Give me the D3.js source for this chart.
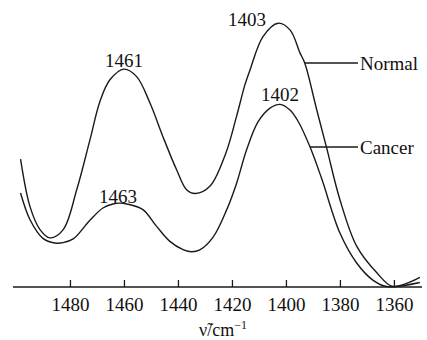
<!DOCTYPE html>
<html>
<head>
<meta charset="utf-8">
<script src="https://cdn.jsdelivr.net/npm/d3@7.9.0/dist/d3.min.js"></script>
<style>
  body { margin: 0; background: #fff; }
  svg { display: block; }
  svg text { font-family: "Liberation Serif", "Times New Roman", Times, "DejaVu Serif", serif; }
</style>
</head>
<body>
<div id="chart"></div>
<script>
// wavenumbers (cm^-1) and absorbance
const normalWave = [1498.3, 1494.8, 1491.1, 1487.4, 1482.5, 1477.5, 1472.6, 1468.9, 1465.2, 1460.0,
  1455.3, 1450.4, 1445.6, 1440.5, 1436.8, 1433.5, 1428.1, 1422.3, 1418.3, 1415.2, 1413.3,
  1408.5, 1402.9, 1398.5, 1394.8, 1393.0, 1388.6, 1384.9, 1380.0, 1373.8, 1366.4, 1360.4, 1350.4];
const normalAbs = [0.479, 0.301, 0.215, 0.184, 0.215, 0.364, 0.551, 0.695, 0.776, 0.816,
  0.788, 0.690, 0.564, 0.439, 0.364, 0.350, 0.378, 0.500, 0.639, 0.757, 0.813,
  0.938, 0.988, 0.963, 0.877, 0.838, 0.664, 0.520, 0.327, 0.153, 0.054, 0.002, 0.036];

const cancerWave = [1498.3, 1494.8, 1489.9, 1485.6, 1482.6, 1478.8, 1472.6, 1467.8, 1464.1, 1461.5, 1459.0,
  1453.0, 1447.9, 1443.0, 1438.1, 1434.9, 1431.9, 1426.9, 1422.0, 1418.3, 1414.6, 1410.3,
  1405.9, 1402.2, 1398.5, 1395.4, 1391.1, 1386.8, 1380.0, 1373.8, 1367.8, 1362.7, 1350.4];
const cancerAbs = [0.352, 0.252, 0.181, 0.165, 0.166, 0.180, 0.250, 0.296, 0.311, 0.314, 0.311,
  0.290, 0.227, 0.171, 0.140, 0.132, 0.139, 0.188, 0.288, 0.388, 0.513, 0.619,
  0.670, 0.684, 0.663, 0.619, 0.525, 0.407, 0.202, 0.090, 0.026, 0.002, 0.017];

const xTicks = [1480, 1460, 1440, 1420, 1400, 1380, 1360];
const peakLabels = [
  { text: '1461', wave: 1460.0, abs: 0.816, dx: 0, dy: -2 },
  { text: '1463', wave: 1461.5, abs: 0.314, dx: -2, dy: 0 },
  { text: '1403', wave: 1402.9, abs: 0.988, dx: -31, dy: 3 },
  { text: '1402', wave: 1402.2, abs: 0.684, dx: 0, dy: -3 }
];
const seriesNames = ['Normal', 'Cancer'];
const leaderWave = [1393.0, 1391.1];

const width = 427, height = 340;
const svg = d3.select('#chart').append('svg')
  .attr('width', width).attr('height', height);

const x = d3.scaleLinear().domain([1501.1, 1349.6]).range([13, 422]);
const y = d3.scaleLinear().domain([0, 1]).range([287, 20]);

const line = d3.line()
  .x(d => x(d[0]))
  .y(d => y(d[1]))
  .curve(d3.curveCatmullRom.alpha(0.5));

const normal = d3.zip(normalWave, normalAbs);
const cancer = d3.zip(cancerWave, cancerAbs);

svg.selectAll('path.series')
  .data([normal, cancer])
  .join('path')
  .attr('class', 'series')
  .attr('d', line)
  .attr('fill', 'none')
  .attr('stroke', '#1a1a1a')
  .attr('stroke-width', 1.4);

// axis
const axis = d3.axisBottom(x)
  .tickValues(xTicks)
  .tickFormat(d3.format('d'))
  .tickSize(-7)
  .tickPadding(16);
const gx = svg.append('g')
  .attr('transform', `translate(0,${y(0)})`)
  .call(axis)
  .attr('font-family', null)
  .attr('font-size', null);
gx.select('.domain').attr('stroke', '#1a1a1a').attr('stroke-width', 1.5).attr('d', 'M13,0H422');
gx.selectAll('.tick line').attr('stroke', '#1a1a1a').attr('stroke-width', 1.3);
gx.selectAll('.tick text')
  .attr('fill', '#111')
  .attr('font-size', 19)
  .attr('dy', '0.71em')
  .attr('y', 11);

svg.append('text')
  .attr('x', 223).attr('y', 336)
  .attr('text-anchor', 'middle')
  .attr('font-size', 18).attr('fill', '#111')
  .html('ν̃/cm<tspan dy="-7" font-size="12">−1</tspan>');

// peak labels
svg.selectAll('text.peak')
  .data(peakLabels)
  .join('text')
  .attr('class', 'peak')
  .attr('x', d => x(d.wave) + d.dx)
  .attr('y', d => y(d.abs) + d.dy)
  .attr('text-anchor', 'middle')
  .attr('font-size', 19)
  .attr('fill', '#111')
  .text(d => d.text);

// series labels with leader lines
const legendY = [63, 147];
seriesNames.forEach((name, i) => {
  svg.append('line')
    .attr('x1', x(leaderWave[i])).attr('x2', 358)
    .attr('y1', legendY[i]).attr('y2', legendY[i])
    .attr('stroke', '#1a1a1a').attr('stroke-width', 1.3);
  svg.append('text')
    .attr('x', 360).attr('y', legendY[i] + 7)
    .attr('font-size', 19).attr('fill', '#111')
    .text(name);
});
</script>
</body>
</html>
